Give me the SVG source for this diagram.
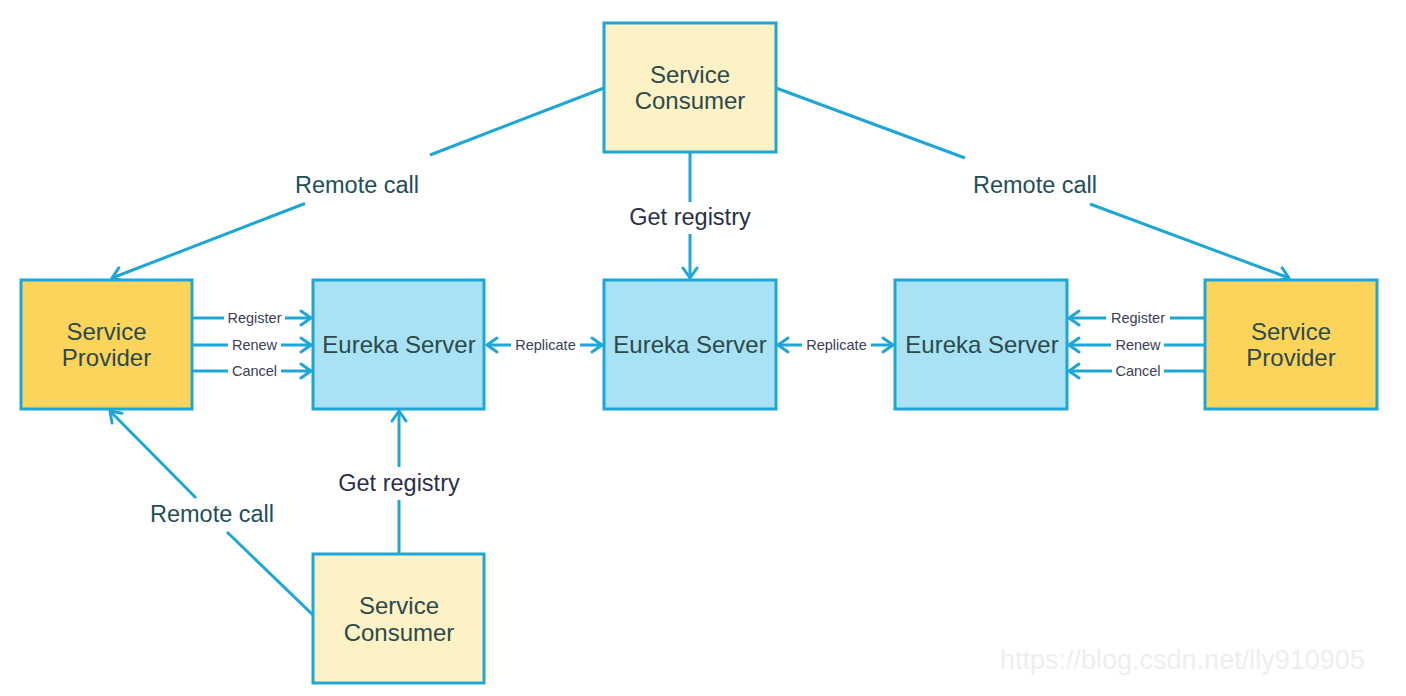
<svg xmlns="http://www.w3.org/2000/svg" width="1406" height="696" viewBox="0 0 1406 696">
<style>
.box{stroke:#1ea6d6;stroke-width:3}
.prov{fill:#fcd45c}
.eur{fill:#a9e1f5}
.cons{fill:#fdf1c6}
.t{font-family:"Liberation Sans",Arial,sans-serif;font-size:24px;text-anchor:middle}
.l{font-family:"Liberation Sans",Arial,sans-serif;font-size:23.5px;text-anchor:middle}
.tb{fill:#2c4a4a}
.rc{fill:#1f4e5a}
.gr{fill:#2a2f4a}
.s{font-family:"Liberation Sans",Arial,sans-serif;font-size:14.5px;text-anchor:middle;fill:#3a4058}
.c{stroke:#1ea6d6;stroke-width:3;fill:none}
.wm{font-family:"Liberation Sans",Arial,sans-serif;font-size:27px;fill:#eeeef2}
</style>
<defs>
<marker id="ah" viewBox="-13 -9 15 18" refX="0" refY="0" markerWidth="15" markerHeight="18" markerUnits="userSpaceOnUse" orient="auto-start-reverse">
<path d="M-10,-7 L0,0 L-10,7" fill="none" stroke="#1ea6d6" stroke-width="3" stroke-linecap="round" stroke-linejoin="round"/>
</marker>
</defs>
<rect width="1406" height="696" fill="#ffffff"/>

<g id="connectors">
<line class="c" x1="604" y1="88" x2="430" y2="155"/>
<line class="c" x1="305" y1="203.5" x2="112" y2="278" marker-end="url(#ah)"/>
<text class="l rc" x="357" y="193">Remote call</text>
<line class="c" x1="776" y1="88" x2="965" y2="158"/>
<line class="c" x1="1090" y1="204" x2="1289" y2="278" marker-end="url(#ah)"/>
<text class="l rc" x="1035" y="193">Remote call</text>
<line class="c" x1="690" y1="152" x2="690" y2="202"/>
<line class="c" x1="690" y1="234" x2="690" y2="278" marker-end="url(#ah)"/>
<text class="l gr" x="690" y="225">Get registry</text>
<line class="c" x1="399" y1="554" x2="399" y2="500"/>
<line class="c" x1="399" y1="467" x2="399" y2="411" marker-end="url(#ah)"/>
<text class="l gr" x="399" y="491">Get registry</text>
<line class="c" x1="313" y1="615" x2="227" y2="532"/>
<line class="c" x1="196" y1="498" x2="110" y2="411" marker-end="url(#ah)"/>
<text class="l rc" x="212" y="522">Remote call</text>

<line class="c" x1="193" y1="318" x2="224" y2="318"/>
<line class="c" x1="285" y1="318" x2="311" y2="318" marker-end="url(#ah)"/>
<text class="s" x="254.5" y="323">Register</text>
<line class="c" x1="193" y1="345" x2="228" y2="345"/>
<line class="c" x1="281" y1="345" x2="311" y2="345" marker-end="url(#ah)"/>
<text class="s" x="254.5" y="350">Renew</text>
<line class="c" x1="193" y1="371" x2="228" y2="371"/>
<line class="c" x1="281" y1="371" x2="311" y2="371" marker-end="url(#ah)"/>
<text class="s" x="254.5" y="376">Cancel</text>

<line class="c" x1="487" y1="345" x2="511" y2="345" marker-start="url(#ah)"/>
<line class="c" x1="580" y1="345" x2="602" y2="345" marker-end="url(#ah)"/>
<text class="s" x="545.5" y="350">Replicate</text>
<line class="c" x1="778" y1="345" x2="802" y2="345" marker-start="url(#ah)"/>
<line class="c" x1="871" y1="345" x2="893" y2="345" marker-end="url(#ah)"/>
<text class="s" x="836.5" y="350">Replicate</text>

<line class="c" x1="1205" y1="318" x2="1170" y2="318"/>
<line class="c" x1="1106" y1="318" x2="1069" y2="318" marker-end="url(#ah)"/>
<text class="s" x="1138" y="323">Register</text>
<line class="c" x1="1205" y1="345" x2="1164" y2="345"/>
<line class="c" x1="1111" y1="345" x2="1069" y2="345" marker-end="url(#ah)"/>
<text class="s" x="1138" y="350">Renew</text>
<line class="c" x1="1205" y1="371" x2="1164" y2="371"/>
<line class="c" x1="1112" y1="371" x2="1069" y2="371" marker-end="url(#ah)"/>
<text class="s" x="1138" y="376">Cancel</text>
</g>

<g id="consumer-top">
<rect class="box cons" x="604" y="23" width="172" height="129"/>
<text class="t tb" x="690" y="83">Service</text>
<text class="t tb" x="690" y="109">Consumer</text>
</g>
<g id="provider-left">
<rect class="box prov" x="21" y="280" width="171" height="129"/>
<text class="t tb" x="106.5" y="340">Service</text>
<text class="t tb" x="106.5" y="366">Provider</text>
</g>
<g id="eureka-1">
<rect class="box eur" x="313" y="280" width="171" height="129"/>
<text class="t tb" x="399" y="353">Eureka Server</text>
</g>
<g id="eureka-2">
<rect class="box eur" x="604" y="280" width="172" height="129"/>
<text class="t tb" x="690" y="353">Eureka Server</text>
</g>
<g id="eureka-3">
<rect class="box eur" x="895" y="280" width="172" height="129"/>
<text class="t tb" x="982" y="353">Eureka Server</text>
</g>
<g id="provider-right">
<rect class="box prov" x="1205" y="280" width="172" height="129"/>
<text class="t tb" x="1291" y="340">Service</text>
<text class="t tb" x="1291" y="366">Provider</text>
</g>
<g id="consumer-bottom">
<rect class="box cons" x="313" y="554" width="171" height="129"/>
<text class="t tb" x="399" y="614">Service</text>
<text class="t tb" x="399" y="641">Consumer</text>
</g>
<text class="wm" x="1000" y="669">https://blog.csdn.net/lly910905</text>
</svg>
